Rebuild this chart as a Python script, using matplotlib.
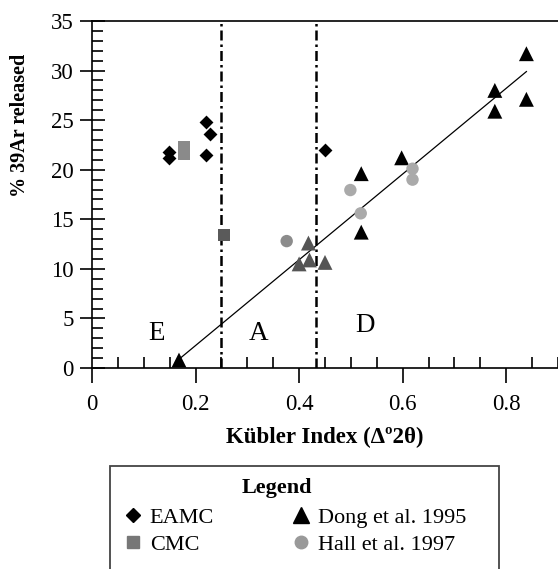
import matplotlib
matplotlib.use("Agg")
import matplotlib.pyplot as plt
from matplotlib.lines import Line2D
from matplotlib.patches import Rectangle
from matplotlib.ticker import MultipleLocator

plt.rcParams['font.family'] = ['Liberation Serif', 'DejaVu Serif']

# EAMC (diamonds)
eamc_x = [0.149, 0.149, 0.220, 0.228, 0.220, 0.450]
eamc_y = [21.8, 21.2, 24.8, 23.6, 21.5, 22.0]

# CMC (squares)
cmc_x = [0.178, 0.178, 0.255]
cmc_y = [22.3, 21.6, 13.4]
cmc_c = ['#8a8a8a', '#8a8a8a', '#5a5a5a']

# Dong et al. 1995 (triangles)
dong_x = [0.168, 0.520, 0.520, 0.598, 0.778, 0.778, 0.839, 0.839,
          0.418, 0.400, 0.420, 0.450]
dong_y = [0.8, 19.6, 13.7, 21.2, 28.0, 25.9, 31.7, 27.1,
          12.6, 10.5, 10.9, 10.65]
dong_c = ['black'] * 8 + ['#555555'] * 4

# Hall et al. 1997 (circles)
hall_x = [0.376, 0.499, 0.519, 0.619, 0.619]
hall_y = [12.8, 17.95, 15.6, 20.1, 19.0]
hall_c = ['#8c8c8c', '#aaaaaa', '#aaaaaa', '#aaaaaa', '#aaaaaa']

# regression line ends
fit_x = [0.170, 0.839]
fit_y = [0.97, 29.9]

# zone boundaries and labels
bounds = [0.250, 0.432]
zone_txt = ['E', 'A', 'D']
zone_x = [0.124, 0.322, 0.527]
zone_y = [3.5, 3.5, 4.3]

fig = plt.figure(figsize=(5.58, 5.69), dpi=100)
ax = fig.add_axes([92 / 558, 1 - 368 / 569, 1 - 92 / 558, 347 / 569])

ax.plot(fit_x, fit_y, color='black', lw=0.9, zorder=2)
for b in bounds:
    ax.axvline(b, color='black', lw=1.8, linestyle=(0, (4, 1.6, 1, 1.6)), zorder=1)

ax.scatter(eamc_x, eamc_y, marker='D', s=50, c='black', zorder=3, linewidths=0)
ax.scatter(cmc_x, cmc_y, marker='s', s=75, c=cmc_c, zorder=3, linewidths=0)
ax.scatter(dong_x, dong_y, marker='^', s=115, c=dong_c, zorder=3, linewidths=0)
ax.scatter(hall_x, hall_y, marker='o', s=80, c=hall_c, zorder=3, linewidths=0)

for t, x, y in zip(zone_txt, zone_x, zone_y):
    ax.text(x, y, t, fontsize=19.5, ha='center', va='center')

ax.set_xlim(0, 0.9)
ax.set_ylim(0, 35)
ax.xaxis.set_major_locator(MultipleLocator(0.2))
ax.xaxis.set_minor_locator(MultipleLocator(0.05))
ax.yaxis.set_major_locator(MultipleLocator(5))
ax.yaxis.set_minor_locator(MultipleLocator(1))
ax.xaxis.set_major_formatter(plt.FuncFormatter(lambda v, p: '0' if v == 0 else f'{v:.1f}'))

ax.spines['right'].set_visible(False)
for s in ['left', 'bottom', 'top']:
    ax.spines[s].set_linewidth(1.2)

ax.tick_params(axis='x', which='major', direction='out', length=11, width=1.2,
               labelsize=16.5, pad=8)
ax.tick_params(axis='x', which='minor', direction='in', length=8, width=1.2)
ax.tick_params(axis='y', which='major', direction='inout', length=18, width=1.2,
               labelsize=16.5, pad=4)
ax.tick_params(axis='y', which='minor', direction='in', length=8, width=1.2)

ax.set_xlabel('Kübler Index (Δº2θ)', fontsize=16.5, fontweight='bold', labelpad=8)
ax.set_ylabel('% 39Ar released', fontsize=14.5, fontweight='bold', va='center')
ax.yaxis.set_label_coords(-0.155, 0.70)

# legend box
fig.add_artist(Rectangle((110 / 558, -0.05), 389 / 558, 0.05 + 1 - 465.7 / 569,
                         transform=fig.transFigure, fill=False,
                         edgecolor='#444444', lw=1.3))
fig.text(277 / 558, 1 - 488 / 569, 'Legend', fontsize=16, fontweight='bold',
         ha='center', va='center')
handles = [
    Line2D([], [], ls='none', marker='D', ms=7.5, color='black', label='EAMC'),
    Line2D([], [], ls='none', marker='s', ms=8, color='#777777', label='CMC'),
    Line2D([], [], ls='none', marker='^', ms=11, color='black', label='Dong et al. 1995'),
    Line2D([], [], ls='none', marker='o', ms=9, color='#999999', label='Hall et al. 1997'),
]
fig.legend(handles=handles, ncol=2, frameon=False, fontsize=16,
           loc='upper left', bbox_to_anchor=(124 / 558, 1 - 507 / 569),
           handlelength=0.8, handletextpad=0.36, columnspacing=3.5,
           labelspacing=0.3, borderpad=0, borderaxespad=0)

fig.savefig('out.png', dpi=100)
